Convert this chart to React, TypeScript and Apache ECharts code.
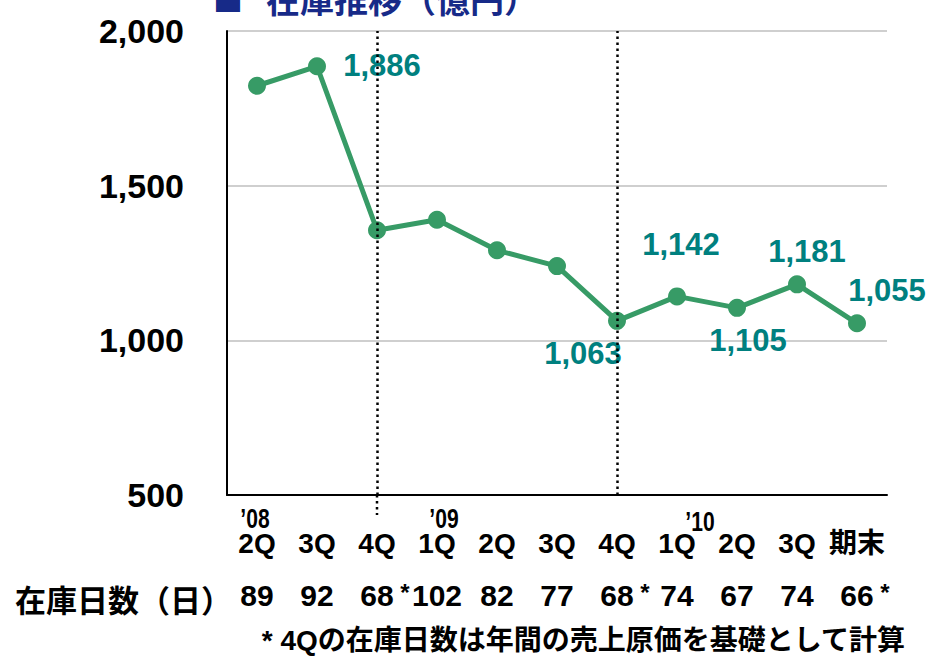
import React, { useEffect, useRef } from "react";
import * as echarts from "echarts";

const categories = ["2Q", "3Q", "4Q", "1Q", "2Q", "3Q", "4Q", "1Q", "2Q", "3Q", "期末"];
const inventory = [1823, 1886, 1356, 1390, 1291, 1240, 1063, 1142, 1105, 1181, 1055];
const inventoryDays = ["89", "92", "68", "102", "82", "77", "68", "74", "67", "74", "66"];
const annualBasis = [false, false, true, false, false, false, true, false, false, false, true];
const yearMarks = [
  { index: 0, text: "’08" },
  { index: 3, text: "’09" },
  { index: 7, text: "’10" },
];
const yTicks = { min: 500, max: 2000, interval: 500 };
const dividerIndices = [2, 6];

const title = "在庫推移（億円）";
const daysTitle = "在庫日数（日）";
const footnote = "* 4Qの在庫日数は年間の売上原価を基礎として計算";

const GREEN = "#379b66";
const TEAL = "#00807f";
const NAVY = "#172a88";
const SANS = "'Liberation Sans', Arial, sans-serif";
const LATIN_CJK = "'Liberation Sans', 'Noto Sans CJK JP', sans-serif";
const CJK = "'Noto Sans CJK JP', sans-serif";

// label placement (offset from the point centre), keyed by data index
const labelOffsets: Record<number, [number, number]> = {
  1: [65, -1],
  6: [-34, 33],
  7: [4, -52],
  8: [11, 33],
  9: [10, -33],
  10: [30, -33],
};
const yearOffsets: Record<number, [number, number]> = {
  0: [-2, 24],
  3: [7, 24],
  7: [23, 27],
};

const fmt = (v: number) => v.toLocaleString("en-US");

export default function App() {
  const ref = useRef<HTMLDivElement>(null);
  useEffect(() => {
    if (!ref.current) return;
    const chart = echarts.init(ref.current, null, { renderer: "svg" });
    const data = inventory.map((v, i) => {
      const off = labelOffsets[i];
      return off
        ? {
            value: v,
            label: {
              show: true,
              position: "inside",
              offset: off,
              align: "center",
              verticalAlign: "middle",
              fontSize: 31,
              fontWeight: "bold",
              fontFamily: SANS,
              color: TEAL,
              formatter: (p: any) => fmt(p.value),
            },
          }
        : { value: v };
    });
    chart.setOption({
      animation: false,
      backgroundColor: "#ffffff",
      grid: { left: 227, right: 41, top: 31, bottom: 169, containLabel: false },
      xAxis: [
        {
          type: "category",
          data: categories,
          boundaryGap: true,
          axisLine: { show: true, lineStyle: { color: "#000", width: 2 } },
          axisTick: { show: false },
          axisLabel: {
            interval: 0,
            margin: 34,
            fontSize: 28,
            fontWeight: "bold",
            fontFamily: LATIN_CJK,
            color: "#000",
          },
          splitLine: { show: false },
        },
        {
          type: "category",
          data: inventoryDays,
          position: "bottom",
          offset: 79,
          boundaryGap: true,
          axisLine: { show: false },
          axisTick: { show: false },
          axisLabel: {
            interval: 0,
            margin: 6,
            fontSize: 30,
            fontWeight: "bold",
            fontFamily: SANS,
            color: "#000",
            formatter: (v: string, i: number) =>
              annualBasis[i] ? `{h| *}{n|${v}}{s| *}` : `{n|${v}}`,
            rich: {
              n: { fontSize: 30, fontWeight: "bold", fontFamily: SANS, color: "#000" },
              s: { fontSize: 24, fontWeight: "bold", fontFamily: SANS, color: "#000", verticalAlign: "top" },
              h: { fontSize: 24, fontWeight: "bold", fontFamily: SANS, color: "rgba(0,0,0,0)" },
            },
          },
        },
      ],
      yAxis: {
        type: "value",
        min: yTicks.min,
        max: yTicks.max,
        interval: yTicks.interval,
        axisLine: { show: true, lineStyle: { color: "#000", width: 2 } },
        axisTick: { show: false },
        splitLine: { show: true, lineStyle: { color: "#bfbfbf", width: 1.5 } },
        axisLabel: {
          margin: 43,
          fontSize: 34,
          fontWeight: "bold",
          fontFamily: SANS,
          color: "#000",
          formatter: (v: number) => fmt(v),
        },
      },
      series: [
        {
          type: "line",
          data,
          xAxisIndex: 0,
          symbol: "circle",
          symbolSize: 18,
          lineStyle: { color: GREEN, width: 5 },
          itemStyle: { color: GREEN },
          label: { show: false },
          z: 2,
          markLine: {
            silent: true,
            symbol: "none",
            label: { show: false },
            lineStyle: { color: "#000", width: 2.5, type: [2.5, 3.5] },
            data: dividerIndices.map((i) => ({ xAxis: i })),
            z: 5,
          },
        },
      ],
    });

    const px = (i: number, v: number) =>
      chart.convertToPixel({ gridIndex: 0 } as any, [i, v]) as number[];
    const base = px(0, yTicks.min);
    const graphics: any[] = [
      {
        type: "text",
        left: 213,
        top: -17,
        style: { text: "■", fontSize: 30, fontFamily: CJK, fill: NAVY, fontWeight: "bold" },
      },
      {
        type: "text",
        left: 266,
        top: -19,
        style: { text: title, fontSize: 34, fontFamily: CJK, fill: NAVY, fontWeight: "bold" },
      },
      {
        type: "text",
        x: 15,
        y: 598,
        style: {
          text: daysTitle,
          fontSize: 31,
          fontFamily: CJK,
          fontWeight: "bold",
          fill: "#000",
          verticalAlign: "middle",
          align: "left",
        },
      },
      {
        type: "text",
        x: 905,
        y: 640,
        style: {
          text: footnote,
          fontSize: 28,
          fontFamily: LATIN_CJK,
          fontWeight: "bold",
          fill: "#000",
          verticalAlign: "middle",
          align: "right",
        },
      },
    ];
    yearMarks.forEach((m) => {
      const p = px(m.index, yTicks.min);
      const off = yearOffsets[m.index] || [0, 24];
      graphics.push({
        type: "text",
        x: p[0] + off[0],
        y: p[1] + off[1],
        scaleX: 0.78,
        style: {
          text: m.text,
          fontSize: 27,
          fontFamily: SANS,
          fontWeight: "bold",
          fill: "#000",
          align: "center",
          verticalAlign: "middle",
        },
      });
    });
    // extension of the first divider below the axis
    const d0 = px(dividerIndices[0], yTicks.min);
    graphics.push({
      type: "line",
      shape: { x1: d0[0], y1: base[1], x2: d0[0], y2: base[1] + 20 },
      style: { stroke: "#000", lineWidth: 2.5, lineDash: [2.5, 3.5] },
    });
    chart.setOption({ graphic: graphics });
    return () => chart.dispose();
  }, []);
  return (
    <div
      ref={ref}
      style={{ position: "fixed", left: 0, top: 0, width: 928, height: 664, background: "#fff" }}
    />
  );
}
